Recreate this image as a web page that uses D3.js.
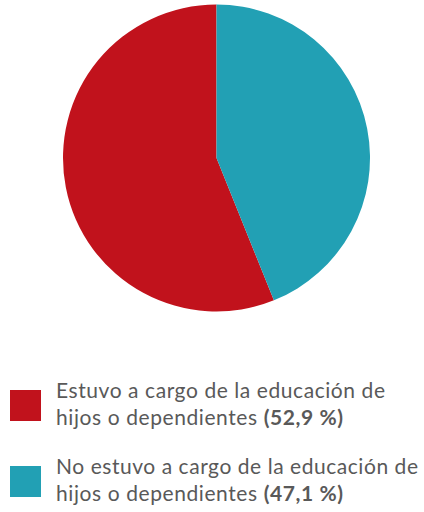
<!DOCTYPE html>
<html>
<head>
<meta charset="utf-8">
<script src="https://cdn.jsdelivr.net/npm/d3@7"></script>
<style>
  html, body { margin: 0; padding: 0; background: #fff; }
  svg { display: block; }
</style>
</head>
<body>
<svg id="chart" width="424" height="512"></svg>
<script>
// slice sizes as drawn in the picture (share of the circle, %)
const categories = ['Estuvo a cargo', 'No estuvo a cargo'];
const sliceValues = [56.1, 43.9];
const colors = ['#c1121c', '#22a0b4'];
// legend text, first line / second line / bold share
const legendLine1 = ['Estuvo a cargo de la educación de', 'No estuvo a cargo de la educación de'];
const legendLine2 = ['hijos o dependientes ', 'hijos o dependientes '];
const legendPct = ['(52,9 %)', '(47,1 %)'];

const svg = d3.select('#chart');
const cx = 216.5, cy = 158, R = 153.5;

const total = d3.sum(sliceValues);
const start = -2 * Math.PI * sliceValues[0] / total;
const pie = d3.pie().sort(null).startAngle(start).endAngle(start + 2 * Math.PI);
const arc = d3.arc().innerRadius(0).outerRadius(R);

svg.append('g').attr('transform', `translate(${cx},${cy})`)
  .selectAll('path').data(pie(sliceValues)).join('path')
  .attr('d', arc)
  .attr('fill', (d, i) => colors[i]);

// legend (line widths stretched to the reference's wider font)
const font = "'Lato', 'Open Sans', sans-serif";
const legY = [390, 466];
const w1 = [329, 362], w2 = [287, 287];
const lg = svg.append('g');
categories.forEach((c, i) => {
  lg.append('rect').attr('x', 10).attr('y', legY[i]).attr('width', 31).attr('height', 31)
    .attr('fill', colors[i]);
  lg.append('text').attr('x', 56).attr('y', legY[i] + 8)
    .attr('font-family', font).attr('font-size', 21).attr('fill', '#595959')
    .attr('textLength', w1[i]).attr('lengthAdjust', 'spacing')
    .text(legendLine1[i]);
  const t = lg.append('text').attr('x', 56).attr('y', legY[i] + 35)
    .attr('font-family', font).attr('font-size', 21).attr('fill', '#595959')
    .attr('textLength', w2[i]).attr('lengthAdjust', 'spacing');
  t.append('tspan').text(legendLine2[i]);
  t.append('tspan').attr('font-weight', 'bold').text(legendPct[i]);
});
</script>
</body>
</html>
